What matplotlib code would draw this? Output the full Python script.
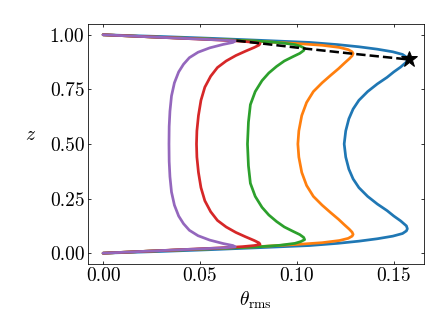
#!/usr/bin/env python3
"""
Temperature fluctuation profiles theta_rms(z) for five runs, with the
locus of the upper boundary-layer maxima drawn as a dashed line.

Outputs:
- out.png
"""
import matplotlib
matplotlib.use('Agg')  # Non-interactive backend
import matplotlib.pyplot as plt

# Profiles: (z, theta_rms) pairs, wall to wall
z_blue = [0, 0.008, 0.016, 0.025, 0.035, 0.045, 0.055, 0.066, 0.078, 0.09, 0.102, 0.112,
          0.125, 0.148, 0.17, 0.195, 0.225, 0.26, 0.3, 0.34, 0.385, 0.44, 0.5, 0.56, 0.615,
          0.66, 0.7, 0.74, 0.775, 0.805, 0.83, 0.852, 0.875, 0.888, 0.898, 0.91, 0.922,
          0.934, 0.945, 0.955, 0.965, 0.975, 0.984, 0.992, 1]
theta_blue = [0, 0.03, 0.055, 0.08, 0.1065, 0.121, 0.132, 0.1415, 0.1495, 0.1545, 0.1565, 0.157,
              0.1565, 0.1535, 0.150, 0.1465, 0.1415, 0.1365, 0.132, 0.129, 0.1268, 0.1252, 0.1244,
              0.1252, 0.1268, 0.129, 0.132, 0.1365, 0.1415, 0.1465, 0.150, 0.1535, 0.1565, 0.157,
              0.1565, 0.1545, 0.1495, 0.1415, 0.132, 0.121, 0.1065, 0.08, 0.055, 0.03, 0]

z_orange = [0, 0.01, 0.02, 0.03, 0.04, 0.048, 0.058, 0.068, 0.078, 0.086, 0.096, 0.11, 0.13,
            0.155, 0.185, 0.22, 0.26, 0.31, 0.37, 0.44, 0.5, 0.56, 0.63, 0.69, 0.74, 0.78,
            0.815, 0.845, 0.87, 0.89, 0.904, 0.914, 0.922, 0.932, 0.942, 0.952, 0.96, 0.97,
            0.98, 0.99, 1]
theta_orange = [0, 0.025, 0.055, 0.08, 0.1, 0.113, 0.122, 0.1265, 0.1285, 0.129, 0.1285, 0.127,
                0.1245, 0.1215, 0.1175, 0.113, 0.1085, 0.105, 0.1025, 0.101, 0.1005, 0.101,
                0.1025, 0.105, 0.1085, 0.113, 0.1175, 0.1215, 0.1245, 0.127, 0.1285, 0.129,
                0.1285, 0.1265, 0.122, 0.113, 0.1, 0.08, 0.055, 0.025, 0]

z_green = [0, 0.01, 0.02, 0.029, 0.036, 0.045, 0.053, 0.062, 0.072, 0.085, 0.1, 0.12, 0.145,
           0.175, 0.21, 0.26, 0.32, 0.4, 0.5, 0.6, 0.68, 0.74, 0.79, 0.825, 0.855, 0.88, 0.9,
           0.915, 0.928, 0.938, 0.947, 0.955, 0.964, 0.971, 0.98, 0.99, 1]
theta_green = [0, 0.025, 0.055, 0.08, 0.091, 0.099, 0.102, 0.104, 0.1035, 0.1015, 0.098, 0.0935,
               0.0895, 0.0855, 0.082, 0.0785, 0.076, 0.075, 0.0745, 0.075, 0.076, 0.0785, 0.082,
               0.0855, 0.0895, 0.0935, 0.098, 0.1015, 0.1035, 0.104, 0.102, 0.099, 0.091, 0.08,
               0.055, 0.025, 0]

z_red = [0, 0.008, 0.016, 0.024, 0.03, 0.035, 0.04, 0.047, 0.058, 0.075, 0.095, 0.12, 0.15,
         0.19, 0.24, 0.3, 0.37, 0.44, 0.5, 0.56, 0.63, 0.7, 0.76, 0.81, 0.85, 0.88, 0.905,
         0.925, 0.942, 0.953, 0.96, 0.965, 0.97, 0.976, 0.984, 0.992, 1]
theta_red = [0, 0.02, 0.04, 0.06, 0.072, 0.078, 0.081, 0.0805, 0.078, 0.0735, 0.0685, 0.0635,
             0.059, 0.0555, 0.0525, 0.0505, 0.0492, 0.0484, 0.0482, 0.0484, 0.0492, 0.0505,
             0.0525, 0.0555, 0.059, 0.0635, 0.0685, 0.0735, 0.078, 0.0805, 0.081, 0.078, 0.072,
             0.06, 0.04, 0.02, 0]

z_purple = [0, 0.008, 0.016, 0.021, 0.025, 0.029, 0.035, 0.044, 0.06, 0.08, 0.105, 0.135, 0.17,
            0.22, 0.28, 0.35, 0.42, 0.5, 0.58, 0.65, 0.72, 0.78, 0.83, 0.865, 0.895, 0.92,
            0.94, 0.956, 0.965, 0.972, 0.975, 0.979, 0.984, 0.992, 1.0]
theta_purple = [0, 0.02, 0.04, 0.053, 0.063, 0.0682, 0.067, 0.062, 0.055, 0.049, 0.0445, 0.0415,
                0.039, 0.0368, 0.0353, 0.0345, 0.0341, 0.034, 0.0341, 0.0345, 0.0353, 0.0368,
                0.039, 0.0415, 0.0445, 0.049, 0.055, 0.062, 0.067, 0.0682, 0.063, 0.053, 0.04,
                0.02, 0]

# Upper boundary-layer maxima (purple -> blue)
peak_theta = [0.0688, 0.081, 0.104, 0.129, 0.1576]
peak_z = [0.973, 0.961, 0.937, 0.913, 0.887]

plt.rcParams['font.family'] = 'serif'
plt.rcParams['font.serif'] = ['cmr10', 'DejaVu Serif']
plt.rcParams['mathtext.fontset'] = 'cm'
plt.rcParams['axes.formatter.use_mathtext'] = True

fig = plt.figure(figsize=(6.4, 4.8), dpi=70)
ax = fig.add_axes([0.196, 0.214, 0.75, 0.715])

profiles = [
    (theta_blue, z_blue, 'C0'),
    (theta_orange, z_orange, 'C1'),
    (theta_green, z_green, 'C2'),
    (theta_red, z_red, 'C3'),
    (theta_purple, z_purple, 'C4'),
]
for theta, z, color in profiles:
    ax.plot(theta, z, color=color, linewidth=2.8, solid_capstyle='round')

ax.plot(peak_theta, peak_z, 'k--', linewidth=2.6)
ax.plot(peak_theta[-1], peak_z[-1], '*', color='k', markersize=17)

ax.set_xticks([0.0, 0.05, 0.10, 0.15])
ax.set_yticks([0.0, 0.25, 0.5, 0.75, 1.0])
ax.xaxis.set_major_formatter(matplotlib.ticker.FormatStrFormatter('%.2f'))
ax.yaxis.set_major_formatter(matplotlib.ticker.FormatStrFormatter('%.2f'))
ax.tick_params(direction='in', top=True, right=True, labelsize=20, length=3.5)

ax.set_xlabel(r'$\theta_{\rm rms}$', fontsize=20)
ax.set_ylabel(r'$z$', fontsize=20, rotation=0, labelpad=18)
ax.yaxis.set_label_coords(-0.17, 0.5)

plt.savefig('out.png', dpi=70)
plt.close()
